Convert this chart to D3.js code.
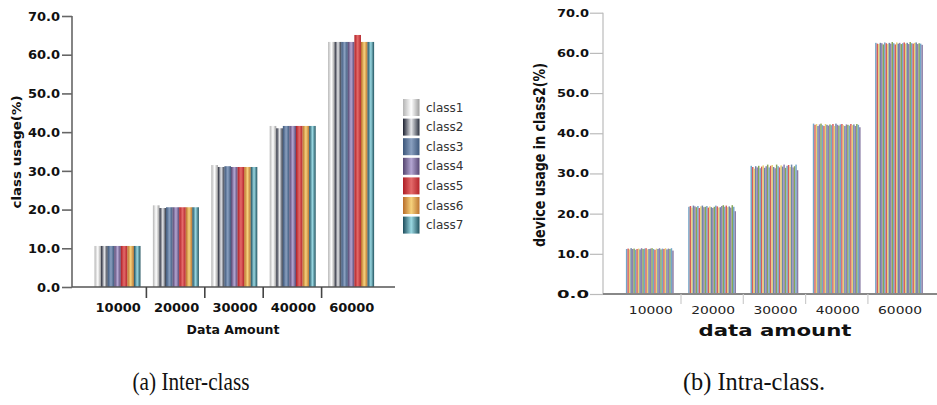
<!DOCTYPE html>
<html>
<head>
<meta charset="utf-8">
<script src="https://cdn.jsdelivr.net/npm/d3@7"></script>
<style>
  body { margin: 0; background: #fff; }
  svg { display: block; }
</style>
</head>
<body>
<svg width="937" height="405"></svg>
<script>
// ---- data ----
const amounts = ["10000", "20000", "30000", "40000", "60000"];
const classes = ["class1", "class2", "class3", "class4", "class5", "class6", "class7"];
const yTicks = [0, 10, 20, 30, 40, 50, 60, 70];

// inter-class usage (%) per class, one array per data amount
const usage10000 = [10.6, 10.6, 10.6, 10.6, 10.6, 10.6, 10.6];
const usage20000 = [21.1, 20.4, 20.6, 20.6, 20.6, 20.6, 20.6];
const usage30000 = [31.5, 31.0, 31.2, 31.0, 31.0, 31.0, 31.0];
const usage40000 = [41.6, 41.0, 41.6, 41.6, 41.6, 41.6, 41.6];
const usage60000 = [63.3, 63.3, 63.3, 63.3, 65.1, 63.3, 63.3];

// intra-class: device usage in class2 (%), one value per device
const dev10000 = [11.2,11.3,11.1,11.4,11.2,11.3,11.0,11.2,11.3,11.1,11.4,11.2,11.3,11.4,11.1,11.2,11.3,11.4,11.2,11.0,11.3,11.2,11.4,11.1,11.3,11.2,11.4,11.1,11.3,11.2,11.4,10.8];
const dev20000 = [21.7,21.9,21.5,22.0,21.8,21.6,21.9,21.4,21.8,22.0,21.6,21.7,21.9,21.5,21.8,21.6,21.4,21.7,22.0,21.8,21.5,21.6,21.9,22.1,21.7,22.0,21.6,21.8,21.5,22.1,21.7,20.6];
const dev30000 = [31.9,31.6,31.2,31.8,31.5,31.9,31.3,31.7,32.0,31.4,31.8,32.2,31.5,31.9,32.1,31.6,31.3,32.2,31.8,31.5,32.0,31.7,32.2,31.4,31.9,32.1,31.6,32.2,31.5,31.8,32.2,30.8];
const dev40000 = [42.4,42.1,42.3,41.8,42.2,42.4,42.0,41.8,42.3,42.1,41.9,42.2,42.0,42.3,41.8,42.4,42.1,41.9,42.2,42.3,42.0,41.8,42.2,42.1,41.9,42.3,42.0,42.2,41.8,42.3,42.1,41.5];
const dev60000 = [62.5,62.3,62.2,62.5,62.4,62.1,62.6,62.4,62.2,62.5,62.3,62.7,62.4,62.1,62.6,62.3,62.5,62.2,62.4,62.6,62.3,62.5,62.2,62.7,62.4,62.3,62.5,62.6,62.2,62.4,62.3,62.0];

const interData = [usage10000, usage20000, usage30000, usage40000, usage60000];
const intraData = [dev10000, dev20000, dev30000, dev40000, dev60000];

// cylinder-like gradient stops per class: [edge, highlight, edge]
const classShades = [
  ["#b4b4b4", "#ffffff", "#9c9c9c"],
  ["#1c2030", "#e6e7ea", "#2c3240"],
  ["#3b5579", "#8aa0c0", "#3e587c"],
  ["#54446f", "#b4a6d2", "#584874"],
  ["#ae1d24", "#e46a6a", "#b4242a"],
  ["#b86c28", "#f6d27c", "#bc7430"],
  ["#1d4d5c", "#9ad8e2", "#22535f"]
];
const devColors = ["#74a6c9", "#d45d5d", "#e9cf75", "#6d86a8", "#8e7fb0", "#86a558"];

const svg = d3.select("svg");
const defs = svg.append("defs");

classShades.forEach((s, i) => {
  const g = defs.append("linearGradient")
      .attr("id", "grad" + i)
      .attr("x1", 0).attr("x2", 1).attr("y1", 0).attr("y2", 0);
  g.append("stop").attr("offset", "0%").attr("stop-color", s[0]);
  g.append("stop").attr("offset", "50%").attr("stop-color", s[1]);
  g.append("stop").attr("offset", "100%").attr("stop-color", s[2]);
});

// ================= (a) Inter-class =================
const left = svg.append("g");

const xA = d3.scaleBand().domain(amounts).range([88, 380]);
const xA1 = d3.scaleBand().domain(classes).range([6.5, 52.5]);
const yA = d3.scaleLinear().domain([0, 70]).range([287, 16]);

left.selectAll("g.group")
  .data(interData)
  .enter().append("g")
  .attr("class", "group")
  .attr("transform", (d, i) => `translate(${xA(amounts[i])},0)`)
  .selectAll("rect")
  .data(d => d)
  .enter().append("rect")
  .attr("x", (d, j) => xA1(classes[j]))
  .attr("width", xA1.bandwidth())
  .attr("y", d => yA(d))
  .attr("height", d => yA(0) - yA(d))
  .attr("fill", (d, j) => `url(#grad${j})`);

// y axis
const yAxisA = left.append("g")
    .attr("transform", "translate(72,0)")
    .call(d3.axisLeft(yA).tickValues(yTicks).tickFormat(d3.format(".1f")).tickSize(10).tickPadding(2));
yAxisA.select(".domain").attr("stroke", "#666").attr("stroke-width", 1.6).attr("d", "M0,16V287");
yAxisA.selectAll(".tick line").attr("stroke", "#666").attr("stroke-width", 1.6);
yAxisA.selectAll(".tick text")
    .attr("font-family", "DejaVu Sans").attr("font-weight", "bold").attr("font-size", 13).attr("fill", "#111");

// x axis line and separators
left.append("line")
    .attr("x1", 72).attr("x2", 395).attr("y1", yA(0)).attr("y2", yA(0))
    .attr("stroke", "#555").attr("stroke-width", 1.6);
left.selectAll("line.sep")
  .data(amounts.slice(1))
  .enter().append("line")
  .attr("class", "sep")
  .attr("x1", d => xA(d)).attr("x2", d => xA(d))
  .attr("y1", yA(0)).attr("y2", yA(0) + 11)
  .attr("stroke", "#444").attr("stroke-width", 1.6);
left.selectAll("text.xlab")
  .data(amounts)
  .enter().append("text")
  .attr("class", "xlab")
  .attr("x", d => xA(d) + xA.bandwidth() / 2 + 1)
  .attr("y", 312)
  .attr("text-anchor", "middle")
  .attr("font-family", "DejaVu Sans").attr("font-weight", "bold").attr("font-size", 13)
  .attr("fill", "#111")
  .text(d => d);

left.append("text")
    .attr("x", 233).attr("y", 334)
    .attr("text-anchor", "middle")
    .attr("font-family", "DejaVu Sans").attr("font-weight", "bold").attr("font-size", 12.5)
    .attr("textLength", 93).attr("lengthAdjust", "spacingAndGlyphs")
    .attr("fill", "#111")
    .text("Data Amount");

left.append("text")
    .attr("transform", "translate(21,152) rotate(-90)")
    .attr("text-anchor", "middle")
    .attr("font-family", "DejaVu Sans").attr("font-weight", "bold").attr("font-size", 12.5)
    .attr("textLength", 113).attr("lengthAdjust", "spacingAndGlyphs")
    .attr("fill", "#111")
    .text("class usage(%)");

// legend
const legend = left.selectAll("g.leg")
  .data(classes)
  .enter().append("g")
  .attr("class", "leg")
  .attr("transform", (d, i) => `translate(403,${99 + i * 19.6})`);
legend.append("rect")
    .attr("width", 16.5).attr("height", 17)
    .attr("fill", (d, i) => `url(#grad${i})`);
legend.append("text")
    .attr("x", 23).attr("y", 8.5).attr("dy", "0.35em")
    .attr("font-family", "DejaVu Sans").attr("font-size", 12)
    .attr("fill", "#333")
    .text(d => d);

// ================= (b) Intra-class =================
const right = svg.append("g");

const devIds = d3.range(dev10000.length);
const xB = d3.scaleBand().domain(amounts).range([618.7, 930.2]);
const xB1 = d3.scaleBand().domain(devIds).range([7.2, 55]);
const yB = d3.scaleLinear().domain([0, 70]).range([294, 12.7]);

right.selectAll("g.group")
  .data(intraData)
  .enter().append("g")
  .attr("class", "group")
  .attr("transform", (d, i) => `translate(${xB(amounts[i])},0)`)
  .selectAll("rect")
  .data(d => d)
  .enter().append("rect")
  .attr("x", (d, j) => xB1(j))
  .attr("width", xB1.bandwidth())
  .attr("y", d => yB(d))
  .attr("height", d => yB(0) - yB(d))
  .attr("fill", (d, j) => j === devIds.length - 1 ? "#8a7ca6" : devColors[j % devColors.length]);

const yAxisB = right.append("g")
    .attr("transform", "translate(603,0)")
    .call(d3.axisLeft(yB).tickValues(yTicks).tickFormat(d3.format(".1f")).tickSize(13).tickPadding(1));
yAxisB.select(".domain").attr("stroke", "#bbb").attr("stroke-width", 1.2).attr("d", "M0,12.7V294");
yAxisB.selectAll(".tick line").attr("stroke", "#bbb").attr("stroke-width", 1.2);
yAxisB.selectAll(".tick text")
    .attr("font-family", "DejaVu Sans").attr("font-weight", "bold").attr("font-size", 11)
    .attr("textLength", 32).attr("lengthAdjust", "spacingAndGlyphs")
    .attr("fill", "#111");

right.append("line")
    .attr("x1", 603).attr("x2", 937).attr("y1", yB(0)).attr("y2", yB(0))
    .attr("stroke", "#888").attr("stroke-width", 2);
right.selectAll("line.sep")
  .data(amounts.slice(1))
  .enter().append("line")
  .attr("class", "sep")
  .attr("x1", d => xB(d)).attr("x2", d => xB(d))
  .attr("y1", yB(0)).attr("y2", yB(0) + 10)
  .attr("stroke", "#ccc").attr("stroke-width", 1.2);
right.selectAll("text.xlab")
  .data(amounts)
  .enter().append("text")
  .attr("class", "xlab")
  .attr("x", d => xB(d) + xB.bandwidth() / 2 + 1)
  .attr("y", 314)
  .attr("text-anchor", "middle")
  .attr("font-family", "DejaVu Sans").attr("font-size", 11)
  .attr("textLength", 44).attr("lengthAdjust", "spacingAndGlyphs")
  .attr("fill", "#222")
  .text(d => d);

right.append("text")
    .attr("x", 775).attr("y", 336)
    .attr("text-anchor", "middle")
    .attr("font-family", "DejaVu Sans").attr("font-weight", "bold").attr("font-size", 16)
    .attr("textLength", 153).attr("lengthAdjust", "spacingAndGlyphs")
    .attr("fill", "#111")
    .text("data amount");

right.append("text")
    .attr("transform", "translate(545,155) rotate(-90)")
    .attr("text-anchor", "middle")
    .attr("font-family", "DejaVu Sans").attr("font-weight", "bold").attr("font-size", 16)
    .attr("textLength", 184).attr("lengthAdjust", "spacingAndGlyphs")
    .attr("fill", "#111")
    .text("device usage in class2(%)");

// captions
svg.append("text")
    .attr("x", 191).attr("y", 390)
    .attr("text-anchor", "middle")
    .attr("font-family", "Liberation Serif").attr("font-size", 25)
    .attr("textLength", 117).attr("lengthAdjust", "spacingAndGlyphs")
    .attr("fill", "#111")
    .text("(a) Inter-class");
svg.append("text")
    .attr("x", 754).attr("y", 390)
    .attr("text-anchor", "middle")
    .attr("font-family", "Liberation Serif").attr("font-size", 25)
    .attr("textLength", 142).attr("lengthAdjust", "spacingAndGlyphs")
    .attr("fill", "#111")
    .text("(b) Intra-class.");
</script>
</body>
</html>
